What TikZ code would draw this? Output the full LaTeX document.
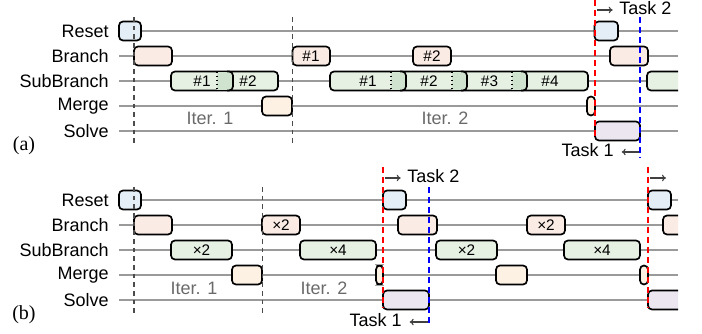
\documentclass[tikz,border=0pt]{standalone}
\usepackage{fontspec}
\setmainfont{Liberation Sans}
\newfontfamily\panelfont{Liberation Serif}
\usetikzlibrary{arrows.meta}

\definecolor{resetfill}{HTML}{E3EEF6}
\definecolor{branchfill}{HTML}{FAEBE5}
\definecolor{subfill}{HTML}{E6F0E3}
\definecolor{overlapfill}{HTML}{CFE3CF}
\definecolor{mergefill}{HTML}{FDF1E4}
\definecolor{solvefill}{HTML}{ECE6F1}
\definecolor{rowgray}{HTML}{9A9A9A}
\definecolor{itergray}{HTML}{6A6A6A}

\begin{document}
\begin{tikzpicture}[x=0.75pt,y=0.75pt,yscale=-1,xscale=1,
  lbl/.style={anchor=east,inner sep=0.75pt,font=\fontsize{13.5}{16}\selectfont},
  itertxt/.style={inner sep=0.75pt,text=itergray,font=\fontsize{13.5}{16}\selectfont},
  tasktxt/.style={inner sep=0.75pt,font=\fontsize{13.5}{16}\selectfont},
  boxtxt/.style={inner sep=0pt,font=\fontsize{11.5}{13}\selectfont},
  rowline/.style={draw=rowgray,line width=0.8pt},
  bx/.style={draw=black,line width=1.25pt,rounded corners=3pt},
  iterdash/.style={draw=black!70,line width=0.8pt,dash pattern={on 3.5pt off 3pt}},
  taskone/.style={draw=blue,line width=1.5pt,dash pattern={on 4.5pt off 3pt}},
  tasktwo/.style={draw=red,line width=1.5pt,dash pattern={on 4.5pt off 3pt}},
  taskarrow/.style={draw=black!75,line width=0.8pt,-{To[length=3pt,width=5pt]}},
]
\useasboundingbox (0,0) rectangle (702,334);

%%%%%%%%%%%%%%%%%%%% (a) %%%%%%%%%%%%%%%%%%%%
% row labels and lines
\foreach \name/\y in {Reset/31,Branch/56,SubBranch/81,Merge/106,Solve/131}{
  \node[lbl] (a\name) at (110,\y) {\name};
  \draw[rowline] (119,\y) -- (678,\y);
}
\node[inner sep=0.75pt,font=\panelfont\fontsize{15}{17}\selectfont] (alabel) at (24,146) {(a)};

% iteration 1
\draw[bx,fill=resetfill] (119,21.5) rectangle (141,40.5);
\draw[bx,fill=branchfill] (134,46.5) rectangle (172,65.5);
\draw[bx,fill=subfill] (171,71.5) rectangle (278,90.5);
\fill[overlapfill] (217,72) rectangle (233,90);
\draw[bx] (227,71.5) -- (233,71.5) -- (233,90.5) -- (227,90.5);
\draw[line width=1.1pt,dotted] (217,71.5) -- (217,90.5);
\node[boxtxt] (as11) at (202,81) {\#1};
\node[boxtxt] (as12) at (248,81) {\#2};
\draw[bx,fill=mergefill] (262,96.5) rectangle (292,115.5);
\node[itertxt] (aiter1) at (210,118) {Iter. 1};

% iteration 2
\draw[bx,fill=branchfill] (292.5,46.5) rectangle (330,65.5);
\node[boxtxt] (ab1) at (311,56) {\#1};
\draw[bx,fill=branchfill] (413,46.5) rectangle (451,65.5);
\node[boxtxt] (ab2) at (432,56) {\#2};
\draw[bx,fill=subfill] (330,71.5) rectangle (588,90.5);
\foreach \l/\r in {391/406,452/467,512/527}{
  \fill[overlapfill] (\l,72) rectangle (\r,90);
  \draw[bx] (\r-6,71.5) -- (\r,71.5) -- (\r,90.5) -- (\r-6,90.5);
  \draw[line width=1.1pt,dotted] (\l,71.5) -- (\l,90.5);
}
\node[boxtxt] (as21) at (368,81) {\#1};
\node[boxtxt] (as22) at (429,81) {\#2};
\node[boxtxt] (as23) at (489.5,81) {\#3};
\node[boxtxt] (as24) at (550,81) {\#4};
\draw[bx,fill=mergefill] (587,96.5) rectangle (595,115.5);
\node[itertxt] (aiter2) at (445,118) {Iter. 2};

% next task
\draw[bx,fill=resetfill] (594.5,21.5) rectangle (618,40.5);
\draw[bx,fill=branchfill] (610,46.5) rectangle (648,65.5);
\begin{scope}
\clip (0,0) rectangle (678,334);
\draw[bx,fill=subfill] (647,71.5) rectangle (700,90.5);
\end{scope}
\draw[bx,fill=solvefill] (595,121.5) rectangle (640,140.5);

% iteration borders and task borders
\draw[iterdash] (134,17) -- (134,145);
\draw[iterdash] (292.3,17) -- (292.3,145);
\draw[tasktwo] (595,0) -- (595,139);
\draw[taskone] (640,17) -- (640,158);
\coordinate (at2s) at (597,10);
\node[tasktxt,anchor=west] (atask2) at (618,8) {Task 2};
\draw[taskarrow] (at2s) -- ([xshift=-4pt]atask2.west |- at2s);
\coordinate (at1e) at (639,152);
\node[tasktxt,anchor=east] (atask1) at (615,150) {Task 1};
\draw[taskarrow] (at1e) -- ([xshift=5pt]atask1.east |- at1e);

%%%%%%%%%%%%%%%%%%%% (b) %%%%%%%%%%%%%%%%%%%%
\foreach \name/\y in {Reset/200,Branch/225,SubBranch/250,Merge/275,Solve/300}{
  \node[lbl] (b\name) at (110,\y) {\name};
  \draw[rowline] (119,\y) -- (678,\y);
}
\node[inner sep=0.75pt,font=\panelfont\fontsize{15}{17}\selectfont] (blabel) at (24,315) {(b)};

% task 1
\draw[bx,fill=resetfill] (119,190.5) rectangle (141,209.5);
\draw[bx,fill=branchfill] (134,215.5) rectangle (172,234.5);
\draw[bx,fill=subfill] (171,240.5) rectangle (232,259.5);
\node[boxtxt] (bs1) at (201.5,250) {×2};
\draw[bx,fill=mergefill] (232,265.5) rectangle (262,284.5);
\draw[bx,fill=branchfill] (262,215.5) rectangle (300,234.5);
\node[boxtxt] (bb1) at (281,225) {×2};
\draw[bx,fill=subfill] (300,240.5) rectangle (376,259.5);
\node[boxtxt] (bs2) at (338,250) {×4};
\draw[bx,fill=mergefill] (376,265.5) rectangle (383,284.5);
\node[itertxt] (biter1) at (194,288) {Iter. 1};
\node[itertxt] (biter2) at (324,288) {Iter. 2};

% task 2
\draw[bx,fill=resetfill] (383,190.5) rectangle (406,209.5);
\draw[bx,fill=branchfill] (398,215.5) rectangle (437,234.5);
\draw[bx,fill=subfill] (436,240.5) rectangle (497,259.5);
\node[boxtxt] (bs3) at (466.5,250) {×2};
\draw[bx,fill=mergefill] (496,265.5) rectangle (527,284.5);
\draw[bx,fill=branchfill] (527,215.5) rectangle (565,234.5);
\node[boxtxt] (bb2) at (546,225) {×2};
\draw[bx,fill=subfill] (564,240.5) rectangle (640,259.5);
\node[boxtxt] (bs4) at (602,250) {×4};
\draw[bx,fill=mergefill] (640,265.5) rectangle (648,284.5);
\draw[bx,fill=solvefill] (383,290.5) rectangle (429,309.5);

% task 3
\draw[bx,fill=resetfill] (648,190.5) rectangle (671,209.5);
\begin{scope}
\clip (0,0) rectangle (678,334);
\draw[bx,fill=branchfill] (663,215.5) rectangle (700,234.5);
\draw[bx,fill=solvefill] (648,290.5) rectangle (700,309.5);
\end{scope}

% iteration borders and task borders
\draw[iterdash] (134,187) -- (134,313);
\draw[iterdash] (262.3,187) -- (262.3,313);
\draw[tasktwo] (383,167) -- (383,308);
\draw[tasktwo] (648,167) -- (648,308);
\draw[taskone] (429,187) -- (429,327);
\coordinate (bt2s) at (385,178);
\node[tasktxt,anchor=west] (btask2) at (406,176.5) {Task 2};
\draw[taskarrow] (bt2s) -- ([xshift=-4pt]btask2.west |- bt2s);
\coordinate (bt3s) at (650,178);
\coordinate (bt3e) at (666,178);
\draw[taskarrow] (bt3s) -- (bt3e);
\coordinate (bt1e) at (428,322);
\node[tasktxt,anchor=east] (btask1) at (403,320) {Task 1};
\draw[taskarrow] (bt1e) -- ([xshift=5pt]btask1.east |- bt1e);
\end{tikzpicture}
\end{document}
